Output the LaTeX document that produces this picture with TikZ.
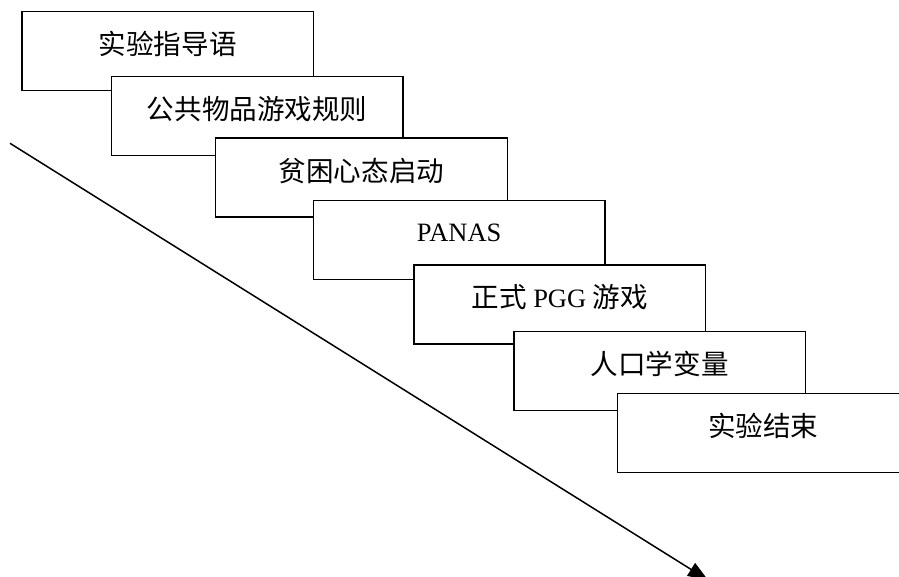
\documentclass[tikz,border=0pt]{standalone}
\usepackage{fontspec}
\setmainfont{Liberation Serif}
\newfontfamily\cjk[Scale=1.04]{Noto Sans CJK SC}
\usetikzlibrary{arrows.meta,calc}
\begin{document}
\begin{tikzpicture}[x=1pt,y=1pt,
  stepbox/.style={draw=black,fill=white,line width=1.4pt,rectangle,inner sep=0pt,
    minimum width=291.5pt,minimum height=79pt,anchor=north west},
  steptext/.style={inner sep=0pt,anchor=center,font=\fontsize{26.5}{30}\selectfont},
  flow/.style={line width=1.5pt,-{Triangle[length=20pt,width=15pt]}}]
\useasboundingbox (0,0) rectangle (899,-577);
\coordinate (s) at (10,-143.3);
\coordinate (e) at (708,-580);
\draw[flow] (s) -- (e);
\node[stepbox] (b1) at (21.3,-10.7) {};
\node[steptext] (t1) at ($(b1.north)+(0,-33.5)$) {\cjk 实验指导语};
\node[stepbox] (b2) at (110.7,-75.7) {};
\node[steptext] (t2) at ($(b2.north)+(0,-33.5)$) {\cjk 公共物品游戏规则};
\node[stepbox] (b3) at (215,-137.5) {};
\node[steptext] (t3) at ($(b3.north)+(0,-33.5)$) {\cjk 贫困心态启动};
\node[stepbox] (b4) at (312.7,-200) {};
\node[steptext] (t4) at ($(b4.north)+(0,-32.5)$) {PANAS};
\node[stepbox] (b5) at (413.3,-264.3) {};
\node[steptext] (t5) at ($(b5.north)+(0,-33)$) {{\cjk 正式} PGG {\cjk 游戏}};
\node[stepbox] (b6) at (513.3,-330.7) {};
\node[steptext] (t6) at ($(b6.north)+(0,-33.5)$) {\cjk 人口学变量};
\node[stepbox] (b7) at (616.7,-392.7) {};
\node[steptext] (t7) at ($(b7.north)+(0,-33.5)$) {\cjk 实验结束};
\end{tikzpicture}
\end{document}
